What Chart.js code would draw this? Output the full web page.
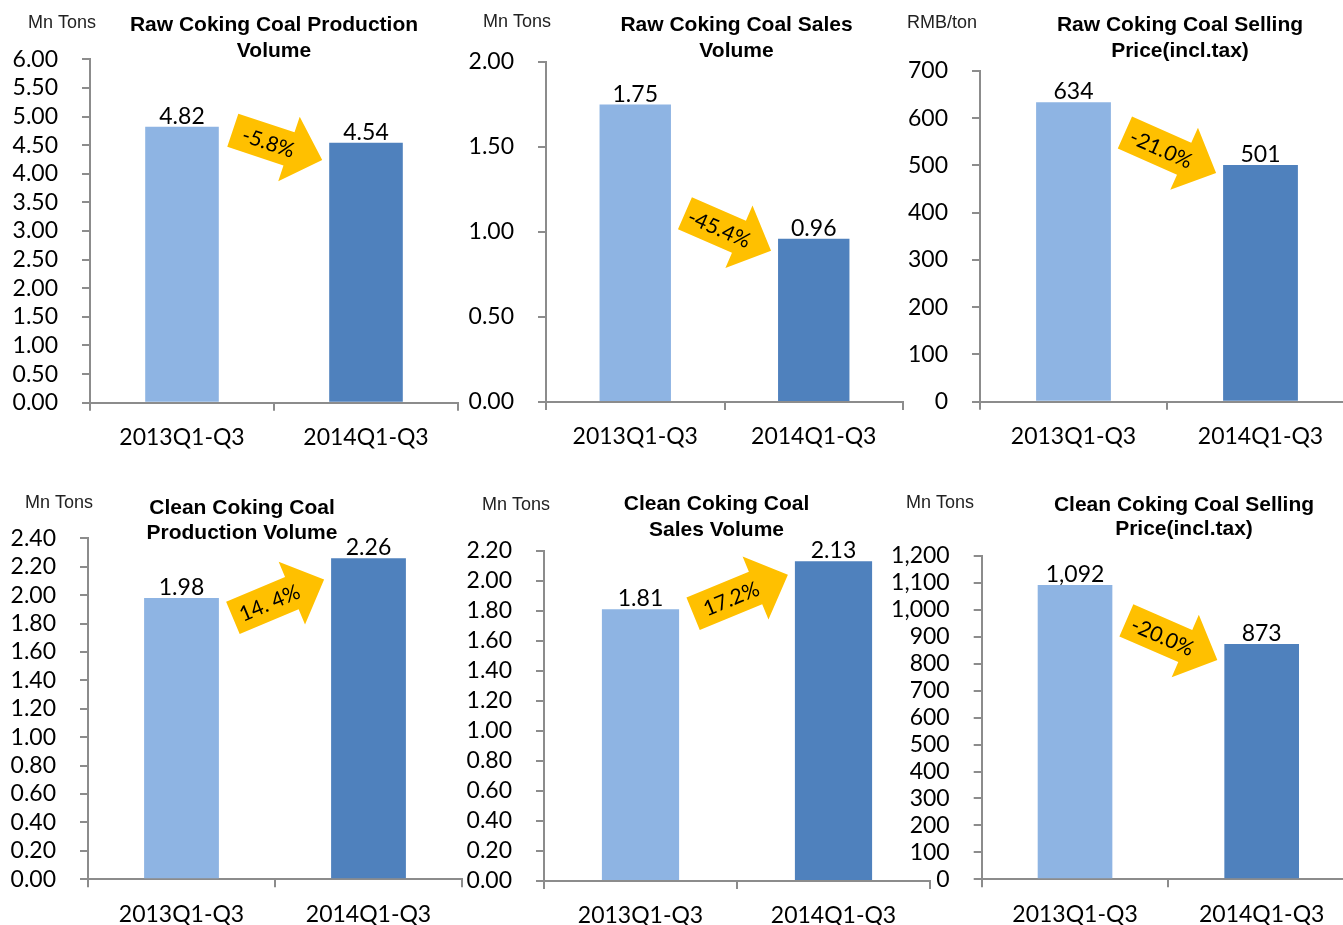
<!DOCTYPE html>
<html lang="en">
<head>
<meta charset="UTF-8">
<title>Coking Coal Production, Sales and Prices</title>
<script src="https://cdn.jsdelivr.net/npm/chart.js"></script>
<style>
    html, body {
        margin: 0;
        padding: 0;
        background: #fff;
        width: 1343px;
        height: 925px;
        overflow: hidden;
    }
    .panel {
        position: absolute;
    }
</style>
</head>
<body>
<div id="app"></div>
<script>
    const periods = ['2013Q1-Q3', '2014Q1-Q3'];

    const rawProduction = [4.82, 4.54];
    const rawSales = [1.75, 0.96];
    const rawPrice = [634, 501];
    const cleanProduction = [1.98, 2.26];
    const cleanSales = [1.81, 2.13];
    const cleanPrice = [1092, 873];

    const titles = [
        ['Raw Coking Coal Production', 'Volume'],
        ['Raw Coking Coal Sales', 'Volume'],
        ['Raw Coking Coal Selling', 'Price(incl.tax)'],
        ['Clean Coking Coal', 'Production Volume'],
        ['Clean Coking Coal', 'Sales Volume'],
        ['Clean Coking Coal Selling', 'Price(incl.tax)']
    ];
    const units = ['Mn Tons', 'Mn Tons', 'RMB/ton', 'Mn Tons', 'Mn Tons', 'Mn Tons'];
    const changes = ['-5.8%', '-45.4%', '-21.0%', '14. 4%', '17.2%', '-20.0%'];
    const axisMax = [6, 2, 700, 2.4, 2.2, 1200];
    const axisStep = [0.5, 0.5, 100, 0.2, 0.2, 100];
    const decimals = [2, 2, 0, 2, 2, 0];
    // yellow arrow tail / tip heights, in axis units
    const arrowFrom = [4.76, 1.11, 570, 1.84, 1.78, 961];
    const arrowTo = [4.24, 0.89, 484, 2.11, 2.04, 814];

    const series = [rawProduction, rawSales, rawPrice, cleanProduction, cleanSales, cleanPrice];

    // page layout: plot box [left, right, top, bottom], title centre, unit label
    const panels = [
        { plot: [90, 458, 59.3, 402.7], row: 0, titleX: 274, titleY: [25, 51], unitX: 28, unitY: 23 },
        { plot: [546, 903, 62, 402], row: 0, titleX: 736.5, titleY: [25, 51], unitX: 483, unitY: 22 },
        { plot: [980, 1354, 71, 401.7], row: 0, titleX: 1180, titleY: [25, 51], unitX: 907, unitY: 23 },
        { plot: [88, 462, 538.3, 879.3], row: 462, titleX: 242, titleY: [508, 533], unitX: 25, unitY: 503 },
        { plot: [544, 930, 550.7, 881], row: 462, titleX: 716.5, titleY: [504, 530], unitX: 482, unitY: 505 },
        { plot: [981.7, 1355, 556, 879.3], row: 462, titleX: 1184, titleY: [505, 529], unitX: 906, unitY: 503 }
    ];

    const LEFT = 100, RIGHT = 6, BELOW = 60, Y_W = 90, X_H = 50;
    const axisGrey = '#8c8c8c';
    const numFont = 23;

    function fmt(v, d) {
        return Number(v).toLocaleString('en-US', { minimumFractionDigits: d, maximumFractionDigits: d });
    }

    const decorations = {
        id: 'decorations',
        afterDraw(chart, args, o) {
            const ctx = chart.ctx;
            const meta = chart.getDatasetMeta(0);
            const yScale = chart.scales.y;
            ctx.save();

            // title and unit
            ctx.fillStyle = '#000';
            ctx.textAlign = 'center';
            ctx.textBaseline = 'middle';
            ctx.font = 'bold 21px "Liberation Sans", Arial, sans-serif';
            o.title.forEach((line, k) => ctx.fillText(line, o.titleX - o.offX, o.titleY[k] - o.offY));
            ctx.textAlign = 'left';
            ctx.fillStyle = '#222';
            ctx.font = '18px "Liberation Sans", Arial, sans-serif';
            ctx.fillText(o.unit, o.unitX - o.offX, o.unitY - o.offY);

            // value labels
            ctx.fillStyle = '#000';
            ctx.textAlign = 'center';
            ctx.textBaseline = 'alphabetic';
            ctx.font = numFont + 'px Lato, sans-serif';
            meta.data.forEach((bar, k) => ctx.fillText(fmt(o.values[k], o.dec), bar.x, bar.y - 3));

            // change arrow
            const b0 = meta.data[0], b1 = meta.data[1];
            const x0 = b0.x + b0.width / 2 + 14, y0 = yScale.getPixelForValue(o.from);
            const x1 = b1.x - b1.width / 2 - 7, y1 = yScale.getPixelForValue(o.to);
            const len = Math.hypot(x1 - x0, y1 - y0);
            ctx.translate(x0, y0);
            ctx.rotate(Math.atan2(y1 - y0, x1 - x0));
            ctx.beginPath();
            ctx.moveTo(0, -17.5);
            ctx.lineTo(len - 35, -17.5);
            ctx.lineTo(len - 35, -34);
            ctx.lineTo(len, 0);
            ctx.lineTo(len - 35, 34);
            ctx.lineTo(len - 35, 17.5);
            ctx.lineTo(0, 17.5);
            ctx.closePath();
            ctx.fillStyle = '#FFC000';
            ctx.fill();
            ctx.fillStyle = '#000';
            ctx.font = '21px Lato, sans-serif';
            ctx.textBaseline = 'middle';
            ctx.fillText(o.text, len * 0.4, 1);
            ctx.restore();
        }
    };

    const app = document.getElementById('app');

    panels.forEach((p, i) => {
        const [l, r, t, b] = p.plot;
        const left = Math.round(l) - LEFT;
        const top = p.row;
        const w = Math.ceil(r - left + RIGHT);
        const h = Math.round(b - top + BELOW);

        const div = document.createElement('div');
        div.className = 'panel';
        div.style.left = left + 'px';
        div.style.top = top + 'px';
        div.style.width = w + 'px';
        div.style.height = h + 'px';
        const canvas = document.createElement('canvas');
        div.appendChild(canvas);
        app.appendChild(div);

        new Chart(canvas, {
            type: 'bar',
            data: {
                labels: periods,
                datasets: [{
                    data: series[i],
                    backgroundColor: ['#8EB4E3', '#4F81BD'],
                    borderWidth: 0,
                    barPercentage: 0.4,
                    categoryPercentage: 1
                }]
            },
            options: {
                responsive: true,
                maintainAspectRatio: false,
                animation: false,
                events: [],
                layout: {
                    padding: {
                        left: l - left - Y_W,
                        right: left + w - r,
                        top: t - top,
                        bottom: top + h - b - X_H
                    }
                },
                plugins: {
                    legend: { display: false },
                    tooltip: { enabled: false },
                    title: { display: false },
                    decorations: {
                        values: series[i],
                        dec: decimals[i],
                        title: titles[i],
                        unit: units[i],
                        text: changes[i],
                        from: arrowFrom[i],
                        to: arrowTo[i],
                        titleX: p.titleX,
                        titleY: p.titleY,
                        unitX: p.unitX,
                        unitY: p.unitY,
                        offX: left,
                        offY: top
                    }
                },
                scales: {
                    x: {
                        afterFit: s => { s.height = X_H; },
                        grid: {
                            offset: true,
                            drawOnChartArea: false,
                            drawTicks: true,
                            tickLength: 8,
                            color: axisGrey,
                            lineWidth: 2
                        },
                        border: { display: true, color: axisGrey, width: 2 },
                        ticks: {
                            padding: 13,
                            color: '#000',
                            font: { family: 'Lato', size: numFont },
                            maxRotation: 0
                        }
                    },
                    y: {
                        min: 0,
                        max: axisMax[i],
                        afterFit: s => { s.width = Y_W; },
                        grid: {
                            drawOnChartArea: false,
                            drawTicks: true,
                            tickLength: 8,
                            color: axisGrey,
                            lineWidth: 2
                        },
                        border: { display: true, color: axisGrey, width: 2 },
                        ticks: {
                            stepSize: axisStep[i],
                            autoSkip: false,
                            padding: 24,
                            color: '#000',
                            font: { family: 'Lato', size: numFont },
                            callback: v => fmt(v, decimals[i])
                        }
                    }
                }
            },
            plugins: [decorations]
        });
    });
</script>
</body>
</html>
